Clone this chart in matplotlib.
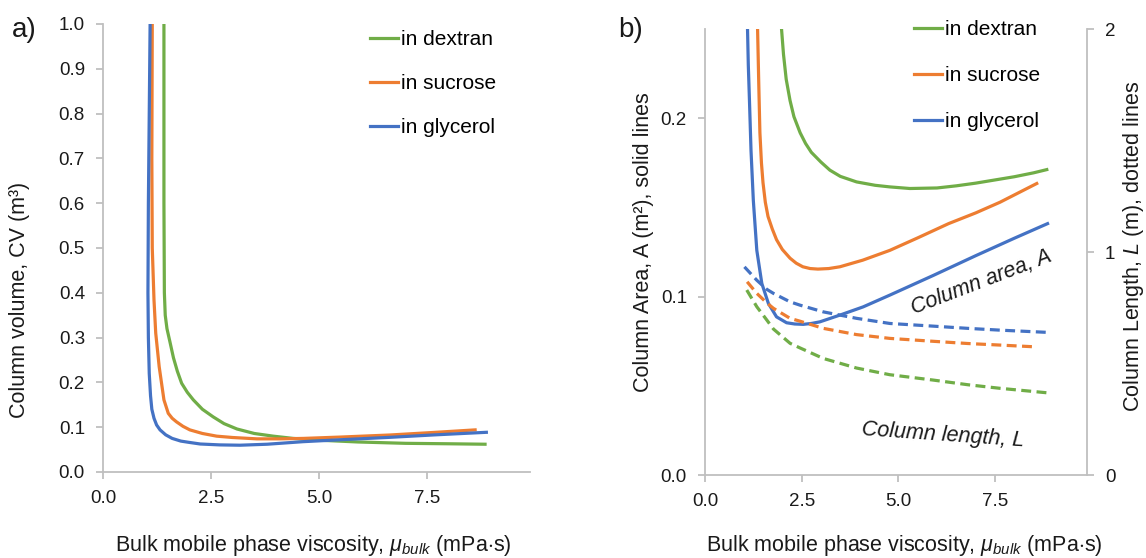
import matplotlib
matplotlib.use("Agg")
import matplotlib.pyplot as plt

plt.rcParams['font.family'] = ['Liberation Sans', 'DejaVu Sans']
plt.rcParams['mathtext.fontset'] = 'custom'
plt.rcParams['mathtext.rm'] = 'Liberation Sans'
plt.rcParams['mathtext.it'] = 'Liberation Sans:italic'
plt.rcParams['mathtext.bf'] = 'Liberation Sans:bold'

GREEN = '#70AD47'
ORANGE = '#ED7D31'
BLUE = '#4472C4'
GREY = '#BFBFBF'
TXT = '#1a1a1a'

# ---------------- panel a) column volume ----------------
mu_dex_a = [1.41, 1.41, 1.42, 1.44, 1.48, 1.55, 1.63, 1.72, 1.82, 1.95, 2.09, 2.30, 2.55, 2.80, 3.10,
            3.50, 3.94, 4.40, 5.00, 5.90, 7.00, 8.00, 8.84]
cv_dex_a = [1.00, 0.60, 0.40, 0.35, 0.32, 0.29, 0.255, 0.225, 0.198, 0.178, 0.161, 0.140, 0.123, 0.108,
            0.096, 0.086, 0.080, 0.075, 0.071, 0.067, 0.064, 0.063, 0.062]

mu_suc_a = [1.14, 1.13, 1.14, 1.18, 1.22, 1.30, 1.41, 1.51, 1.60, 1.70, 1.85, 2.01, 2.30, 2.63, 3.00,
            3.56, 4.10, 4.64, 5.50, 6.64, 7.60, 8.61]
cv_suc_a = [1.00, 0.70, 0.50, 0.384, 0.31, 0.235, 0.161, 0.131, 0.120, 0.112, 0.102, 0.094, 0.086, 0.080,
            0.077, 0.074, 0.074, 0.075, 0.078, 0.0826, 0.088, 0.094]

mu_gly_a = [1.09, 1.07, 1.05, 1.04, 1.05, 1.07, 1.10, 1.13, 1.18, 1.24, 1.32, 1.45, 1.60, 1.80, 2.00,
            2.25, 2.70, 3.17, 3.80, 4.63, 5.60, 6.64, 7.70, 8.87]
cv_gly_a = [1.00, 0.80, 0.60, 0.40, 0.30, 0.22, 0.17, 0.14, 0.12, 0.105, 0.094, 0.083, 0.075, 0.069,
            0.066, 0.0625, 0.0605, 0.0598, 0.062, 0.0677, 0.0725, 0.0774, 0.083, 0.0886]

# ---------------- panel b) column area (solid) ----------------
mu_dex_A = [1.98, 2.03, 2.10, 2.20, 2.30, 2.46, 2.60, 2.75, 3.00, 3.23, 3.50, 3.92, 4.40, 4.78, 5.30,
            6.00, 6.50, 7.00, 7.50, 8.00, 8.50, 8.84]
A_dex = [0.250, 0.236, 0.222, 0.210, 0.201, 0.192, 0.186, 0.181, 0.1755, 0.171, 0.1675, 0.1644, 0.1625,
         0.1616, 0.1607, 0.161, 0.1622, 0.1637, 0.1655, 0.1673, 0.1695, 0.1713]

mu_suc_A = [1.36, 1.39, 1.42, 1.46, 1.50, 1.56, 1.63, 1.74, 1.85, 2.00, 2.20, 2.36, 2.53, 2.72, 2.92,
            3.20, 3.49, 4.08, 4.78, 5.50, 6.30, 7.00, 7.63, 8.58]
A_suc = [0.250, 0.220, 0.192, 0.175, 0.164, 0.153, 0.145, 0.138, 0.132, 0.1265, 0.1216, 0.1188, 0.1168,
         0.1158, 0.1155, 0.1158, 0.1168, 0.1205, 0.126, 0.133, 0.141, 0.147, 0.153, 0.1635]

mu_gly_A = [1.10, 1.12, 1.15, 1.19, 1.25, 1.34, 1.47, 1.64, 1.85, 2.11, 2.32, 2.54, 2.75, 2.97, 3.49,
            4.09, 4.78, 5.90, 7.00, 8.00, 8.86]
A_gly = [0.250, 0.230, 0.210, 0.182, 0.154, 0.126, 0.1074, 0.0962, 0.0887, 0.0854, 0.0847, 0.0845,
         0.0850, 0.0859, 0.0897, 0.0943, 0.1009, 0.1119, 0.123, 0.1328, 0.141]

# ---------------- panel b) column length (dashed) ----------------
mu_dex_L = [1.08, 1.34, 1.60, 1.77, 2.20, 2.46, 3.06, 3.92, 4.78, 5.90, 6.80, 7.63, 8.84]
L_dex = [0.830, 0.755, 0.695, 0.655, 0.591, 0.570, 0.523, 0.480, 0.450, 0.426, 0.405, 0.389, 0.369]

mu_suc_L = [1.09, 1.34, 1.60, 1.77, 2.20, 2.46, 3.06, 3.92, 4.78, 5.90, 6.80, 7.63, 8.55]
L_suc = [0.867, 0.815, 0.772, 0.748, 0.703, 0.690, 0.658, 0.630, 0.613, 0.600, 0.590, 0.583, 0.575]

mu_gly_L = [1.02, 1.34, 1.60, 1.77, 2.20, 2.46, 3.06, 3.92, 4.78, 5.90, 6.80, 7.63, 8.86]
L_gly = [0.934, 0.874, 0.833, 0.815, 0.777, 0.762, 0.732, 0.703, 0.680, 0.668, 0.658, 0.650, 0.640]

x_ticks = [0.0, 2.5, 5.0, 7.5]
x_tick_labels = ['0.0', '2.5', '5.0', '7.5']
cv_ticks = [0.0, 0.1, 0.2, 0.3, 0.4, 0.5, 0.6, 0.7, 0.8, 0.9, 1.0]
A_ticks = [0.0, 0.1, 0.2]
L_ticks = [0, 1, 2]

series_names = ['in dextran', 'in sucrose', 'in glycerol']
colors = [GREEN, ORANGE, BLUE]

XMAX = 9.88
LW = 2.3
FS_TICK = 13.5
FS_LEG = 15
FS_LAB = 15.5
FS_XLAB = 15.5

fig = plt.figure(figsize=(11.46, 5.58), dpi=100)

def style_axis(ax):
    for s in ['top', 'right']:
        ax.spines[s].set_visible(False)
    for s in ['left', 'bottom']:
        ax.spines[s].set_color(GREY)
        ax.spines[s].set_linewidth(1.3)
    ax.tick_params(axis='both', colors=GREY, labelcolor=TXT, labelsize=FS_TICK,
                   length=5, width=1.3, direction='out')

# ---- panel a
axa = fig.add_axes([103/1146, 1-472/558, 427/1146, 448/558])
style_axis(axa)
for mu, v, c, n in zip([mu_dex_a, mu_suc_a, mu_gly_a], [cv_dex_a, cv_suc_a, cv_gly_a], colors, series_names):
    axa.plot(mu, v, color=c, lw=LW, label=n, solid_joinstyle='round')
axa.set_xlim(0, XMAX)
axa.set_ylim(0, 1.0)
axa.set_xticks(x_ticks)
axa.set_xticklabels(x_tick_labels)
axa.set_yticks(cv_ticks)
axa.set_yticklabels([f'{t:.1f}' for t in cv_ticks])
axa.tick_params(axis='y', pad=8)
axa.tick_params(axis='x', pad=8)
axa.legend(loc='upper left', bbox_to_anchor=((370-103)/427, (472-30)/448), frameon=False,
           fontsize=FS_LEG, handlelength=1.35, handletextpad=0.12, labelspacing=1.2,
           borderpad=0, borderaxespad=0)

# ---- panel b
axb = fig.add_axes([705/1146, 1-475/558, 382/1146, 445.7/558])
style_axis(axb)
axb2 = axb.twinx()
for s in ['top', 'left', 'bottom']:
    axb2.spines[s].set_visible(False)
axb2.spines['right'].set_color(GREY)
axb2.spines['right'].set_linewidth(1.3)
axb2.tick_params(axis='y', colors=GREY, labelcolor=TXT, labelsize=FS_TICK, length=5, width=1.3, pad=8)

for mu, v, c, n in zip([mu_dex_A, mu_suc_A, mu_gly_A], [A_dex, A_suc, A_gly], colors, series_names):
    axb.plot(mu, v, color=c, lw=LW, label=n, solid_joinstyle='round')
for mu, v, c in zip([mu_dex_L, mu_suc_L, mu_gly_L], [L_dex, L_suc, L_gly], colors):
    axb2.plot(mu, v, color=c, lw=LW, dashes=(3.1, 1.7))

axb.set_xlim(0, XMAX)
axb.set_ylim(0, 0.25)
axb.set_xticks(x_ticks)
axb.set_xticklabels(x_tick_labels)
axb.set_yticks(A_ticks)
axb.set_yticklabels([f'{t:.1f}' for t in A_ticks])
axb.tick_params(axis='y', pad=8)
axb.tick_params(axis='x', pad=8)
axb2.set_ylim(0, 2)
axb2.set_yticks(L_ticks)
axb2.set_yticklabels([str(t) for t in L_ticks])

axb.legend(loc='upper left', bbox_to_anchor=((914-705)/382, (475-20)/445.7), frameon=False,
           fontsize=FS_LEG, handlelength=1.35, handletextpad=0.12, labelspacing=1.3,
           borderpad=0, borderaxespad=0)

axb.text(7.16, 0.108, 'Column area, A', fontsize=FS_LAB, style='italic', rotation=21,
         ha='center', va='center', color=TXT)
axb.text(6.15, 0.0225, 'Column length, L', fontsize=FS_LAB, style='italic', rotation=-4,
         ha='center', va='center', color=TXT)

# labels
xlab = r'Bulk mobile phase viscosity, $\mu_{bulk}$ (mPa$\cdot$s)'
fig.text(313/1146, 1-545/558, xlab, ha='center', va='center', fontsize=FS_XLAB, color=TXT)
fig.text(904/1146, 1-545/558, xlab, ha='center', va='center', fontsize=FS_XLAB, color=TXT)
fig.text(20/1146, 1-300/558, 'Column volume, CV (m³)', rotation=90, ha='center', va='center',
         fontsize=FS_LAB, color=TXT)
fig.text(643/1146, 1-242/558, 'Column Area, A (m²), solid lines', rotation=90, ha='center',
         va='center', fontsize=FS_LAB, color=TXT)
fig.text(1133/1146, 1-246/558, r'Column Length, $L$ (m), dotted lines', rotation=90, ha='center',
         va='center', fontsize=FS_LAB, color=TXT)

fig.text(12/1146, 1-30/558, 'a)', ha='left', va='center', fontsize=20, color=TXT)
fig.text(618/1146, 1-30/558, 'b)', ha='left', va='center', fontsize=20, color=TXT)

fig.savefig('out.png', dpi=100)
